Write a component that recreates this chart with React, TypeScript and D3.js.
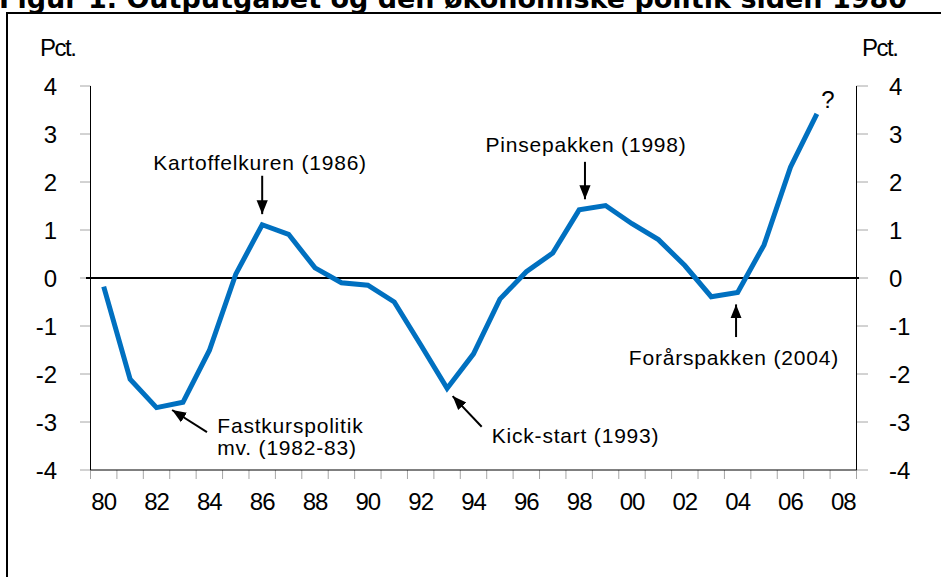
import { scaleBand, scaleLinear, line as d3line } from 'd3';

const TITLE = 'Figur 1. Outputgabet og den økonomiske politik siden 1980';
const UNIT = 'Pct.';

// categories: one band per year, 1980..2008
const YEARS = [
  1980, 1981, 1982, 1983, 1984, 1985, 1986, 1987, 1988, 1989, 1990, 1991, 1992, 1993, 1994,
  1995, 1996, 1997, 1998, 1999, 2000, 2001, 2002, 2003, 2004, 2005, 2006, 2007, 2008,
];
// output gap, pct., 1980..2007
const GAP = [
  -0.18, -2.11, -2.7, -2.59, -1.51, 0.08, 1.11, 0.91, 0.21, -0.1, -0.15, -0.5, -1.39, -2.3,
  -1.58, -0.44, 0.13, 0.52, 1.42, 1.51, 1.13, 0.8, 0.26, -0.39, -0.3, 0.69, 2.31, 3.42,
];
const Y_TICKS = [4, 3, 2, 1, 0, -1, -2, -3, -4];
const X_LABELS = ['80', '82', '84', '86', '88', '90', '92', '94', '96', '98', '00', '02', '04', '06', '08'];

// annotations in data units (year, value)
const ANNOTATIONS = [
  { lines: ['Kartoffelkuren (1986)'], tx: 1985.92, ty: 2.25, anchor: 'middle', from: [1986.0, 2.13], to: [1986.0, 1.33] },
  { lines: ['Pinsepakken (1998)'], tx: 1998.26, ty: 2.62, anchor: 'middle', from: [1998.22, 2.42], to: [1998.22, 1.64] },
  { lines: ['Forårspakken (2004)'], tx: 2003.86, ty: -1.81, anchor: 'middle', from: [2003.94, -1.23], to: [2003.94, -0.55] },
  { lines: ['Kick-start (1993)'], tx: 1994.69, ty: -3.44, anchor: 'start', from: [1994.31, -3.1], to: [1993.21, -2.46] },
  { lines: ['Fastkurspolitik', 'mv. (1982-83)'], tx: 1984.3, ty: -3.23, anchor: 'start', from: [1983.91, -3.21], to: [1982.59, -2.75] },
];

const W = 941;
const H = 577;
const L = 90.5;
const R = 856.5;
const TOP = 86;
const BOT = 470;
const FONT = '"Liberation Sans", Arial, sans-serif';
const BLUE = '#0070C0';
const TICK = '#a6a6a6';

export default function App() {
  const x = scaleBand<number>().domain(YEARS).range([L, R]).padding(0);
  const bw = x.bandwidth();
  const xc = (yr: number) => (x(yr) ?? 0) + bw / 2;
  const xl = scaleLinear().domain([1979.5, 2008.5]).range([L, R]); // fractional years for notes
  const y = scaleLinear().domain([-4, 4]).range([BOT, TOP]);

  const path = d3line<number>()
    .x((_, i) => xc(YEARS[i]))
    .y((d) => y(d))(GAP) ?? '';

  const bounds = [...YEARS.map((yr) => x(yr) ?? 0), R];

  return (
    <svg width={W} height={H} style={{ position: 'absolute', left: 0, top: 0, background: '#fff' }}>
      <defs>
        <marker id="ah" viewBox="0 0 10 10" refX="10" refY="5" markerWidth="7" markerHeight="7" orient="auto">
          <path d="M0,1 L10,5 L0,9 z" fill="#000" />
        </marker>
      </defs>

      <text x={-1} y={8} fontFamily='"DejaVu Sans", Verdana, sans-serif' fontWeight="bold" fontSize={27}>
        {TITLE}
      </text>
      {/* frame, open at right and bottom */}
      <path d={`M7,${H + 5} V13 H${W + 5}`} fill="none" stroke="#000" strokeWidth={2} />

      <text x={40} y={56} fontFamily={FONT} fontSize={24} letterSpacing={-1.5}>{UNIT}</text>
      <text x={862} y={56} fontFamily={FONT} fontSize={24} letterSpacing={-1.5}>{UNIT}</text>

      {/* y axes */}
      {Y_TICKS.map((t) => (
        <g key={t}>
          <line x1={80} x2={L} y1={y(t)} y2={y(t)} stroke={TICK} />
          <line x1={R} x2={868} y1={y(t)} y2={y(t)} stroke={TICK} />
          <text x={57} y={y(t) + 8.5} textAnchor="end" fontFamily={FONT} fontSize={24}>{t}</text>
          <text x={889} y={y(t) + 8.5} textAnchor="start" fontFamily={FONT} fontSize={24}>{t}</text>
        </g>
      ))}
      <line x1={L} x2={L} y1={TOP} y2={BOT} stroke="#000" />
      <line x1={R} x2={R} y1={TOP} y2={BOT} stroke="#000" />

      {/* x axis */}
      {bounds.map((b, i) => (
        <line key={i} x1={b} x2={b} y1={BOT} y2={BOT + 9} stroke={TICK} />
      ))}
      <line x1={L} x2={R} y1={BOT} y2={BOT} stroke="#000" />
      {X_LABELS.map((lab, i) => (
        <text key={lab + i} x={xc(YEARS[i * 2])} y={510} textAnchor="middle" fontFamily={FONT} fontSize={24} letterSpacing={-1}>
          {lab}
        </text>
      ))}

      <line x1={86} x2={859} y1={y(0)} y2={y(0)} stroke="#000" strokeWidth={2} />

      <path d={path} fill="none" stroke={BLUE} strokeWidth={5} strokeLinejoin="miter" />

      {ANNOTATIONS.map((a, i) => (
        <g key={i}>
          {a.lines.map((s, j) => (
            <text
              key={j}
              x={xl(a.tx)}
              y={y(a.ty) + j * 22}
              textAnchor={a.anchor as 'start'}
              fontFamily={FONT}
              fontSize={21}
              letterSpacing={0.8}
            >
              {s}
            </text>
          ))}
          <line
            x1={xl(a.from[0])}
            y1={y(a.from[1])}
            x2={xl(a.to[0])}
            y2={y(a.to[1])}
            stroke="#000"
            strokeWidth={2}
            markerEnd="url(#ah)"
          />
        </g>
      ))}
      <text x={xl(2007.42)} y={y(3.54)} textAnchor="middle" fontFamily={FONT} fontSize={24}>?</text>
    </svg>
  );
}
